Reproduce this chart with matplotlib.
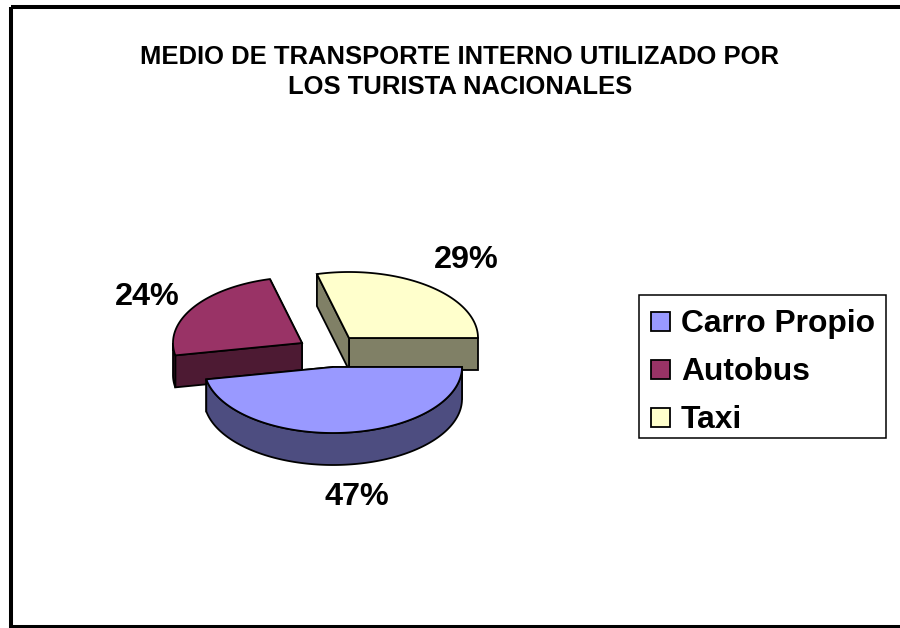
# Exploded 3D style pie chart, drawn in pixel coordinates
import numpy as np
import matplotlib
matplotlib.use('Agg')
import matplotlib.pyplot as plt
from matplotlib.patches import Polygon, Rectangle

title = 'MEDIO DE TRANSPORTE INTERNO UTILIZADO POR\nLOS TURISTA NACIONALES'
categories = ['Carro Propio', 'Autobus', 'Taxi']
shares = [47, 24, 29]
label_text = ['47%', '24%', '29%']

plt.rcParams['font.family'] = ['Liberation Sans', 'DejaVu Sans']

# Layout and style
top_colors = ['#9999FF', '#993366', '#FFFFCC']
side_colors = ['#4D4D80', '#4D1A33', '#808066']
apex = [(333, 367), (302, 343), (349, 338)]
label_pos = [(357, 497), (147, 297), (466, 260)]
rx = 129
ry = 66
depth = 32
line_px = 1.8
lw = line_px * 72 / 100

fig = plt.figure(figsize = (9, 6.28), dpi = 100)
ax = fig.add_axes([0, 0, 1, 1])
ax.set_xlim(0, 900)
ax.set_ylim(628, 0)
ax.axis('off')

# Outer frame, open on the right side of the picture
ax.add_patch(Rectangle((11, 7), 920, 620, fill = False, edgecolor = 'black', linewidth = 2.9))

ax.text(460, 72, title, ha = 'center', va = 'center', fontsize = 18.45, fontweight = 'bold', linespacing = 1.27)

# Angles run clockwise from 3 o'clock, as in the original chart
ends = np.cumsum(shares) / np.sum(shares) * 360
starts = np.concatenate([[0], ends[:-1]])

def arc(center, a0, a1):
	t = np.radians(np.linspace(a0, a1, 200))
	return np.column_stack([center[0] + rx * np.cos(t), center[1] + ry * np.sin(t)])

def draw_slice(i, zorder):
	center = np.array(apex[i], dtype = float)
	outline = arc(center, starts[i], ends[i])
	down = np.array([0, depth])
	# Cut faces first, the top face hides the ones turned away
	for edge in [outline[-1], outline[0]]:
		face = [center, edge, edge + down, center + down]
		ax.add_patch(Polygon(face, facecolor = side_colors[i], edgecolor = 'black', linewidth = lw, zorder = zorder))
	# Outer wall, only the part in front
	a0 = starts[i]
	a1 = min(ends[i], 180)
	if a1 > a0:
		wall = arc(center, a0, a1)
		ax.add_patch(Polygon(np.vstack([wall, wall[::-1] + down]), facecolor = side_colors[i], edgecolor = 'black', linewidth = lw, zorder = zorder))
	ax.add_patch(Polygon(np.vstack([center, outline]), facecolor = top_colors[i], edgecolor = 'black', linewidth = lw, zorder = zorder))

# Back slices first so the blue slice sits over the others
for i, z in [(2, 2), (1, 3), (0, 4)]:
	draw_slice(i, z)

for i in range(len(shares)):
	ax.text(label_pos[i][0], label_pos[i][1], label_text[i], ha = 'center', va = 'center', fontsize = 23.3, fontweight = 'bold', zorder = 6)

# Legend box, placed by hand since its padding is uneven
ax.add_patch(Rectangle((639, 295), 247, 143, facecolor = 'white', edgecolor = 'black', linewidth = 1.1, zorder = 5))
for i in range(len(categories)):
	ax.add_patch(Rectangle((651, 312 + 48 * i), 19, 19, facecolor = top_colors[i], edgecolor = 'black', linewidth = lw, zorder = 6))
	ax.text(681, 332 + 48 * i, categories[i], ha = 'left', va = 'baseline', fontsize = 22.9, fontweight = 'bold', zorder = 6)

fig.savefig('out.png', dpi = 100)
